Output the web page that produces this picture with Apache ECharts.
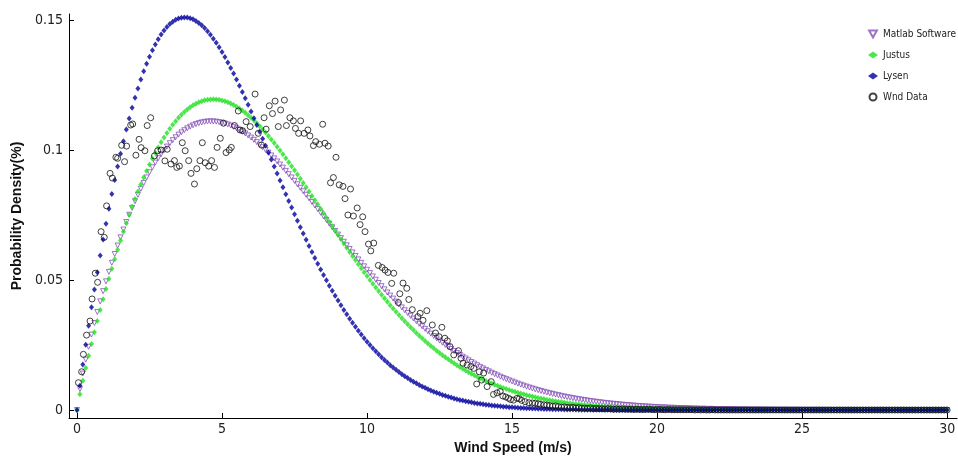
<!DOCTYPE html>
<html><head><meta charset="utf-8">
<script src="https://cdn.jsdelivr.net/npm/echarts@6/dist/echarts.min.js"></script>
<style>html,body{margin:0;padding:0;background:#fff}#c{width:958px;height:456px}</style>
</head><body><div id="c"></div>
<script>
const seriesNames = ['Matlab Software', 'Justus', 'Lysen', 'Wnd Data'];
const xTicks = [0, 5, 10, 15, 20, 25, 30];
const yTicks = [0, 0.05, 0.1, 0.15];
const curveStep = 0.1; // curves sampled every 0.1 m/s from 0 to 30

const matlabDensity = [
0,0.00806,0.01402,0.01936,0.02432,0.02900,0.03344,0.03770,0.04178,0.04570,
0.04948,0.05311,0.05662,0.06000,0.06325,0.06639,0.06940,0.07230,0.07508,0.07775,
0.08030,0.08275,0.08508,0.08731,0.08943,0.09144,0.09334,0.09514,0.09684,0.09843,
0.09992,0.10131,0.10260,0.10379,0.10488,0.10589,0.10679,0.10760,0.10832,0.10896,
0.10950,0.10996,0.11033,0.11062,0.11084,0.11096,0.11102,0.11099,0.11090,0.11073,
0.11050,0.11019,0.10982,0.10939,0.10890,0.10835,0.10774,0.10707,0.10636,0.10559,
0.10478,0.10392,0.10301,0.10206,0.10108,0.10005,0.09899,0.09789,0.09676,0.09560,
0.09442,0.09320,0.09197,0.09070,0.08943,0.08813,0.08681,0.08548,0.08413,0.08277,
0.08141,0.08003,0.07864,0.07726,0.07586,0.07446,0.07306,0.07166,0.07026,0.06887,
0.06747,0.06609,0.06470,0.06333,0.06195,0.06059,0.05924,0.05790,0.05657,0.05525,
0.05394,0.05264,0.05137,0.05010,0.04885,0.04761,0.04640,0.04519,0.04401,0.04284,
0.04169,0.04056,0.03944,0.03835,0.03727,0.03621,0.03517,0.03416,0.03315,0.03218,
0.03121,0.03027,0.02935,0.02845,0.02757,0.02670,0.02586,0.02503,0.02423,0.02344,
0.02267,0.02192,0.02119,0.02048,0.01979,0.01911,0.01845,0.01781,0.01719,0.01658,
0.01599,0.01542,0.01486,0.01432,0.01380,0.01329,0.01280,0.01232,0.01185,0.01140,
0.01097,0.01054,0.01014,0.00974,0.00936,0.00899,0.00863,0.00829,0.00795,0.00763,
0.00732,0.00702,0.00673,0.00645,0.00618,0.00592,0.00567,0.00543,0.00520,0.00497,
0.00476,0.00455,0.00435,0.00416,0.00398,0.00380,0.00363,0.00347,0.00331,0.00316,
0.00301,0.00288,0.00274,0.00262,0.00249,0.00238,0.00226,0.00216,0.00205,0.00196,
0.00186,0.00177,0.00169,0.00160,0.00152,0.00145,0.00138,0.00131,0.00124,0.00118,
0.00112,0.00106,0.00101,0.00096,0.00091,0.00086,0.00082,0.00077,0.00073,0.00070,
0.00066,0.00063,0.00059,0.00056,0.00053,0.00050,0.00048,0.00045,0.00043,0.00040,
0.00038,0.00036,0.00034,0.00032,0.00030,0.00029,0.00027,0.00026,0.00024,0.00023,
0.00022,0.00020,0.00019,0.00018,0.00017,0.00016,0.00015,0.00014,0.00013,0.00013,
0.00012,0.00011,0.00010,0.00010,0.00009,0.00009,0.00008,0.00008,0.00007,0.00007,
0.00006,0.00006,0.00006,0.00005,0.00005,0.00005,0.00004,0.00004,0.00004,0.00003,
0.00003,0.00003,0.00003,0.00003,0.00002,0.00002,0.00002,0.00002,0.00002,0.00002,
0.00001,0.00001,0.00001,0.00001,0.00001,0.00001,0.00001,0.00001,0.00001,0.00001,
0.00001,0.00001,0.00001,0.00001,0.00001,0.00001,0,0,0,0,
0,0,0,0,0,0,0,0,0,0,
0];

const justusDensity = [
0,0.00601,0.01120,0.01612,0.02084,0.02542,0.02987,0.03420,0.03843,0.04255,
0.04657,0.05048,0.05430,0.05802,0.06163,0.06515,0.06855,0.07186,0.07506,0.07815,
0.08113,0.08400,0.08676,0.08942,0.09195,0.09438,0.09669,0.09889,0.10098,0.10295,
0.10481,0.10655,0.10818,0.10969,0.11109,0.11238,0.11355,0.11462,0.11558,0.11643,
0.11717,0.11780,0.11833,0.11876,0.11909,0.11932,0.11945,0.11949,0.11944,0.11929,
0.11906,0.11874,0.11833,0.11785,0.11729,0.11665,0.11594,0.11516,0.11431,0.11340,
0.11242,0.11138,0.11029,0.10915,0.10795,0.10670,0.10541,0.10408,0.10270,0.10129,
0.09984,0.09836,0.09685,0.09532,0.09376,0.09218,0.09057,0.08895,0.08732,0.08567,
0.08402,0.08235,0.08068,0.07900,0.07733,0.07565,0.07397,0.07229,0.07063,0.06897,
0.06731,0.06567,0.06403,0.06242,0.06081,0.05922,0.05764,0.05608,0.05454,0.05302,
0.05152,0.05004,0.04859,0.04715,0.04574,0.04434,0.04298,0.04164,0.04033,0.03903,
0.03777,0.03653,0.03532,0.03413,0.03297,0.03184,0.03073,0.02965,0.02859,0.02756,
0.02656,0.02559,0.02464,0.02371,0.02282,0.02195,0.02110,0.02028,0.01948,0.01870,
0.01795,0.01723,0.01653,0.01585,0.01519,0.01455,0.01394,0.01334,0.01277,0.01222,
0.01168,0.01117,0.01067,0.01019,0.00973,0.00929,0.00886,0.00845,0.00806,0.00768,
0.00732,0.00697,0.00663,0.00631,0.00601,0.00571,0.00543,0.00516,0.00490,0.00465,
0.00442,0.00419,0.00398,0.00377,0.00357,0.00339,0.00321,0.00304,0.00287,0.00272,
0.00257,0.00243,0.00230,0.00217,0.00205,0.00194,0.00183,0.00173,0.00163,0.00153,
0.00145,0.00136,0.00128,0.00121,0.00114,0.00107,0.00101,0.00095,0.00089,0.00084,
0.00079,0.00074,0.00069,0.00065,0.00061,0.00057,0.00054,0.00050,0.00047,0.00044,
0.00041,0.00039,0.00036,0.00034,0.00032,0.00030,0.00028,0.00026,0.00024,0.00022,
0.00021,0.00020,0.00018,0.00017,0.00016,0.00015,0.00014,0.00013,0.00012,0.00011,
0.00010,0.00010,0.00009,0.00008,0.00008,0.00007,0.00007,0.00006,0.00006,0.00005,
0.00005,0.00005,0.00004,0.00004,0.00004,0.00003,0.00003,0.00003,0.00003,0.00002,
0.00002,0.00002,0.00002,0.00002,0.00002,0.00001,0.00001,0.00001,0.00001,0.00001,
0.00001,0.00001,0.00001,0.00001,0.00001,0,0,0,0,0,
0,0,0,0,0,0,0,0,0,0,
0,0,0,0,0,0,0,0,0,0,
0,0,0,0,0,0,0,0,0,0,
0,0,0,0,0,0,0,0,0,0,
0];

const lysenDensity = [
0,0.00937,0.01747,0.02510,0.03243,0.03950,0.04634,0.05297,0.05939,0.06561,
0.07162,0.07743,0.08303,0.08843,0.09361,0.09857,0.10332,0.10785,0.11215,0.11622,
0.12007,0.12369,0.12708,0.13024,0.13317,0.13587,0.13834,0.14057,0.14259,0.14438,
0.14595,0.14729,0.14842,0.14934,0.15006,0.15057,0.15088,0.15099,0.15092,0.15067,
0.15024,0.14964,0.14887,0.14795,0.14688,0.14566,0.14431,0.14282,0.14122,0.13949,
0.13765,0.13572,0.13369,0.13157,0.12937,0.12709,0.12475,0.12234,0.11988,0.11738,
0.11483,0.11224,0.10963,0.10699,0.10433,0.10166,0.09899,0.09631,0.09363,0.09095,
0.08829,0.08565,0.08302,0.08041,0.07784,0.07528,0.07277,0.07029,0.06784,0.06543,
0.06307,0.06075,0.05847,0.05624,0.05407,0.05194,0.04986,0.04783,0.04586,0.04394,
0.04207,0.04025,0.03849,0.03678,0.03513,0.03352,0.03198,0.03048,0.02902,0.02763,
0.02628,0.02499,0.02375,0.02255,0.02140,0.02030,0.01924,0.01822,0.01725,0.01632,
0.01544,0.01459,0.01378,0.01300,0.01226,0.01156,0.01089,0.01026,0.00965,0.00908,
0.00853,0.00801,0.00752,0.00706,0.00662,0.00621,0.00581,0.00544,0.00509,0.00476,
0.00445,0.00416,0.00388,0.00362,0.00337,0.00315,0.00293,0.00273,0.00254,0.00236,
0.00219,0.00203,0.00189,0.00176,0.00163,0.00150,0.00140,0.00129,0.00120,0.00110,
0.00102,0.00094,0.00087,0.00080,0.00074,0.00068,0.00063,0.00058,0.00053,0.00049,
0.00045,0.00041,0.00038,0.00035,0.00032,0.00029,0.00027,0.00025,0.00022,0.00021,
0.00019,0.00017,0.00016,0.00014,0.00013,0.00012,0.00011,0.00010,0.00009,0.00008,
0.00007,0.00006,0.00006,0.00005,0.00005,0.00004,0.00004,0.00003,0.00003,0.00003,
0.00003,0.00002,0.00002,0.00002,0.00002,0.00002,0.00001,0.00001,0.00001,0.00001,
0.00001,0,0,0,0,0,0,0,0,0,
0,0,0,0,0,0,0,0,0,0,
0,0,0,0,0,0,0,0,0,0,
0,0,0,0,0,0,0,0,0,0,
0,0,0,0,0,0,0,0,0,0,
0,0,0,0,0,0,0,0,0,0,
0,0,0,0,0,0,0,0,0,0,
0,0,0,0,0,0,0,0,0,0,
0,0,0,0,0,0,0,0,0,0,
0,0,0,0,0,0,0,0,0,0,
0];

const windSpeed = [
0.05,0.16,0.22,0.33,0.45,0.52,0.63,0.71,0.83,0.94,
1.02,1.14,1.22,1.34,1.40,1.54,1.64,1.71,1.85,1.92,
2.03,2.14,2.21,2.34,2.42,2.54,2.67,2.78,2.90,3.03,
3.11,3.24,3.36,3.44,3.53,3.63,3.73,3.85,3.93,4.05,
4.13,4.24,4.32,4.42,4.54,4.64,4.74,4.83,4.94,5.05,
5.14,5.25,5.32,5.43,5.56,5.62,5.71,5.83,5.97,6.14,
6.25,6.36,6.45,6.52,6.63,6.74,6.83,6.94,7.02,7.15,
7.22,7.34,7.46,7.53,7.64,7.71,7.83,7.96,8.03,8.15,
8.23,8.36,8.47,8.55,8.66,8.74,8.84,8.93,9.04,9.17,
9.24,9.34,9.43,9.53,9.66,9.76,9.85,9.93,10.05,10.13,
10.23,10.39,10.52,10.62,10.72,10.85,10.92,11.08,11.13,11.24,
11.37,11.44,11.56,11.75,11.83,11.93,12.06,12.25,12.36,12.48,
12.58,12.68,12.77,12.86,12.99,13.15,13.24,13.31,13.45,13.58,
13.68,13.78,13.87,13.95,14.02,14.14,14.28,14.36,14.48,14.59,
14.68,14.78,14.88,14.95,15.05,15.17,15.25,15.33,15.45,15.58,
15.70,15.80,15.90,15.98,
16.1,16.2,16.3,16.4,16.5,16.6,16.7,16.8,16.9,
17.0,17.1,17.2,17.3,17.4,17.5,17.6,17.7,17.8,17.9,
18.0,18.1,18.2,18.3,18.4,18.5,18.6,18.7,18.8,18.9,
19.0,19.1,19.2,19.3,19.4,19.5,19.6,19.7,19.8,19.9,
20.0,20.1,20.2,20.3,20.4,20.5,20.6,20.7,20.8,20.9,
21.0,21.1,21.2,21.3,21.4,21.5,21.6,21.7,21.8,21.9,
22.0,22.1,22.2,22.3,22.4,22.5,22.6,22.7,22.8,22.9,
23.0,23.1,23.2,23.3,23.4,23.5,23.6,23.7,23.8,23.9,
24.0,24.1,24.2,24.3,24.4,24.5,24.6,24.7,24.8,24.9,
25.0,25.1,25.2,25.3,25.4,25.5,25.6,25.7,25.8,25.9,
26.0,26.1,26.2,26.3,26.4,26.5,26.6,26.7,26.8,26.9,
27.0,27.1,27.2,27.3,27.4,27.5,27.6,27.7,27.8,27.9,
28.0,28.1,28.2,28.3,28.4,28.5,28.6,28.7,28.8,28.9,
29.0,29.1,29.2,29.3,29.4,29.5,29.6,29.7,29.8,29.9,
30.0];

const windDensity = [
0.0105,0.0147,0.0214,0.0288,0.0342,0.0427,0.0526,0.0491,0.0686,0.0664,
0.0785,0.0910,0.0892,0.0972,0.0968,0.1018,0.0955,0.1015,0.1096,0.1100,
0.0980,0.1041,0.1009,0.0997,0.1094,0.1124,0.0977,0.0997,0.1000,0.0958,
0.1003,0.0946,0.0959,0.0933,0.0938,0.1028,0.0997,0.0959,0.0910,0.0869,
0.0928,0.0959,0.1028,0.0951,0.0938,0.0959,0.0933,0.1010,0.1045,0.1103,
0.0990,0.1000,0.1010,0.1094,0.1150,0.1077,0.1074,0.1109,0.1090,0.1215,
0.1064,0.1019,0.1124,0.1080,0.1170,0.1140,0.1188,0.1090,0.1154,0.1192,
0.1094,0.1124,0.1112,0.1083,0.1064,0.1112,0.1064,0.1077,0.1054,0.1017,
0.1032,0.1022,0.1099,0.1026,0.1015,0.0874,0.0894,0.0972,0.0866,0.0860,
0.0813,0.0750,0.0850,0.0746,0.0777,0.0713,0.0743,0.0686,0.0638,0.0612,
0.0642,0.0556,0.0548,0.0538,0.0529,0.0487,0.0526,0.0413,0.0447,0.0488,
0.0468,0.0425,0.0386,0.0359,0.0372,0.0345,0.0382,0.0327,0.0296,0.0282,
0.0318,0.0276,0.0266,0.0244,0.0212,0.0228,0.0199,0.0180,0.0173,0.0167,
0.0160,0.0100,0.0147,0.0115,0.0142,0.0090,0.0109,0.0060,0.0066,0.0071,
0.0054,0.0050,0.0045,0.0040,0.0038,0.0045,0.0043,0.0037,0.0032,0.0028,
0.0027,0.0026,0.0024,0.0022,
0.0020,0.0019,0.0017,0.0015,0.0016,0.0013,0.0011,0.0012,0.0010,
0.0009,0.0010,0.0008,0.0009,0.0007,0.0007,0.0006,0.0008,0.0005,0.0006,
0.0005,0.0005,0.0004,0.0005,0.0004,0.0003,0.0004,0.0003,0.0004,0.0003,
0.0003,0.0003,0.0002,0.0003,0.0002,0.0002,0.0002,0.0003,0.0002,0.0001,
0.0002,0.0002,0.0001,0.0001,0.0002,0.0001,0.0001,0.0001,0.0001,0.0001,
0.0001,0.0001,0.0001,0,0.0001,0,0.0001,0,0,0.0001,
0,0,0,0,0,0,0,0,0,0,
0,0,0,0,0,0,0,0,0,0,
0,0,0,0,0,0,0,0,0,0,
0,0,0,0,0,0,0,0,0,0,
0,0,0,0,0,0,0,0,0,0,
0,0,0,0,0,0,0,0,0,0,
0,0,0,0,0,0,0,0,0,0,
0,0,0,0,0,0,0,0,0,0,
0];

const FONT = "'Liberation Sans', Arial, Helvetica, sans-serif";
const NARROW = "'Liberation Sans Narrow', 'DejaVu Sans Condensed', 'Liberation Sans', sans-serif";
const curvePairs = arr => arr.map((y, i) => [Math.round(i * curveStep * 10) / 10, y]);
const windPairs = windSpeed.map((x, i) => [x, windDensity[i]]);

const chart = echarts.init(document.getElementById('c'), null, {renderer: 'canvas'});
chart.setOption({
  animation: false,
  backgroundColor: '#ffffff',
  textStyle: {fontFamily: FONT},
  grid: {left: 69, right: 1, top: 14, bottom: 38, outerBoundsMode: 'none', containLabel: false},
  legend: {
    orient: 'vertical', left: 863, top: 22, itemGap: 7,
    itemWidth: 10, itemHeight: 7,
    textStyle: {fontSize: 10, color: '#222', fontFamily: NARROW, lineHeight: 14},
    data: seriesNames
  },
  xAxis: {
    type: 'value', min: -0.276, max: 30.34,
    axisLine: {show: true, onZero: false, lineStyle: {color: '#000', width: 1}},
    axisTick: {show: true, inside: true, length: 5, customValues: xTicks, lineStyle: {color: '#000'}},
    axisLabel: {customValues: xTicks, fontSize: 14, color: '#222', margin: 4, fontFamily: NARROW},
    splitLine: {show: false},
    name: 'Wind Speed (m/s)', nameLocation: 'middle', nameGap: 20,
    nameTextStyle: {fontWeight: 'bold', fontSize: 14, color: '#111', fontFamily: FONT}
  },
  yAxis: {
    type: 'value', min: -0.00308, max: 0.1523,
    axisLine: {show: true, onZero: false, lineStyle: {color: '#000', width: 1}},
    axisTick: {show: true, inside: true, length: 5, customValues: yTicks, lineStyle: {color: '#000'}},
    axisLabel: {customValues: yTicks, fontSize: 14, color: '#222', margin: 6, fontFamily: NARROW,
      formatter: v => String(+Number(v).toFixed(2))},
    splitLine: {show: false},
    name: 'Probability Density(%)', nameLocation: 'middle', nameGap: 45, nameRotate: 90,
    nameTextStyle: {fontWeight: 'bold', fontSize: 14, color: '#111', fontFamily: FONT}
  },
  series: [
    {
      name: seriesNames[0], type: 'scatter', data: curvePairs(matlabDensity),
      symbol: 'path://M0,0L10,0L5,9Z', symbolSize: [5, 5],
      itemStyle: {color: 'rgba(0,0,0,0)', borderColor: '#8450b8', borderWidth: 1},
      z: 2
    },
    {
      name: seriesNames[1], type: 'scatter', data: curvePairs(justusDensity),
      symbol: 'diamond', symbolSize: [5, 6],
      itemStyle: {color: '#22e022'},
      z: 3
    },
    {
      name: seriesNames[2], type: 'scatter', data: curvePairs(lysenDensity),
      symbol: 'diamond', symbolSize: [5, 6],
      itemStyle: {color: '#00009c'},
      z: 4
    },
    {
      name: seriesNames[3], type: 'scatter', data: windPairs,
      symbol: 'circle', symbolSize: 6,
      itemStyle: {color: 'rgba(0,0,0,0)', borderColor: '#111', borderWidth: 1},
      z: 5
    }
  ]
});
</script>
</body></html>
